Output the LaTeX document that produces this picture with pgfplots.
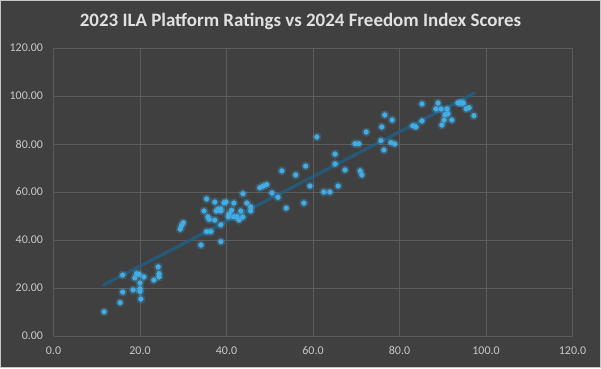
\documentclass[border=0pt]{standalone}
\usepackage{pgfplots}
\pgfplotsset{compat=1.18}
\usepackage{pgfplotstable}
\usepackage{fontspec}
\setmainfont{Carlito}
\definecolor{bg}{RGB}{64,64,64}
\definecolor{gridc}{RGB}{92,92,92}
\definecolor{tickc}{RGB}{200,200,200}
\definecolor{titlec}{RGB}{225,225,225}
\definecolor{markc}{RGB}{66,172,228}
\definecolor{trendc}{RGB}{32,96,134}
\pgfplotstableread{
x y
11.7 10.1
15.4 13.9
16.0 18.3
16.0 25.4
18.4 19.2
18.8 24.2
19.2 26.0
19.8 25.7
20.0 22.1
20.0 19.7
20.0 18.5
20.2 15.4
20.9 24.6
23.2 23.3
24.2 28.8
24.4 26.0
24.4 24.6
29.3 44.5
29.6 46.0
30.0 47.2
34.1 37.9
38.7 39.3
35.4 43.5
36.4 43.5
38.7 46.3
35.7 49.7
36.0 48.6
37.3 48.3
34.8 52.1
35.4 57.1
37.3 55.8
37.6 52.1
38.1 52.9
38.7 52.9
38.7 52.1
39.4 55.5
39.9 55.8
40.4 49.7
40.6 50.8
41.2 52.4
41.7 55.4
41.7 49.7
42.4 49.7
42.9 48.3
43.3 52.1
43.8 49.6
43.8 59.3
44.7 55.4
45.6 53.8
45.6 52.1
47.7 61.8
48.5 62.5
49.3 63.1
50.5 59.6
51.9 57.8
52.8 68.8
53.8 53.3
56.0 67.1
57.9 55.4
58.3 70.8
59.3 62.5
62.5 60.0
63.9 60.0
65.1 75.8
65.1 71.7
65.8 62.5
60.9 82.9
67.4 69.2
69.7 80.1
70.6 80.1
70.9 68.8
71.3 67.1
72.3 85.0
75.7 81.4
75.9 87.1
76.4 77.5
76.6 92.1
78.0 80.6
78.3 90.0
78.9 80.0
83.1 87.6
83.8 87.1
85.2 96.7
85.2 89.6
88.4 94.6
88.9 97.1
89.6 94.6
89.8 87.9
90.3 90.0
90.5 92.2
91.0 94.6
91.2 92.6
92.1 90.0
93.5 97.1
94.0 97.1
94.5 97.1
94.7 97.1
95.4 94.6
96.1 95.1
97.2 91.8
}\pts
\begin{document}
\begin{tikzpicture}[x=1bp,y=1bp]
\fill[bg] (0,0) rectangle (601,368);
\draw[gray!45,line width=1bp] (0.5,0.5) rectangle (600.5,367.5);
\node[text=titlec,font=\fontsize{19}{21}\selectfont\bfseries] at (300.5,347) {2023 ILA Platform Ratings vs 2024 Freedom Index Scores};
\begin{axis}[
  at={(53.5bp,32bp)}, anchor=south west,
  scale only axis, width=519bp, height=288bp,
  xmin=0, xmax=120, ymin=0, ymax=120,
  xtick={0,20,...,120}, ytick={0,20,...,120},
  grid=major,
  major grid style={gridc, line width=0.8bp},
  axis x line*=bottom, axis y line*=left,
  x axis line style={gridc, line width=0.8bp, -},
  y axis line style={draw=none, -},
  tick style={draw=none},
  ticklabel style={text=tickc, font=\fontsize{12}{14}\selectfont},
  /pgf/number format/assume math mode=true,
  xticklabel style={yshift=-7bp, /pgf/number format/.cd, fixed, fixed zerofill, precision=1},
  yticklabel style={xshift=-7bp, /pgf/number format/.cd, fixed, fixed zerofill, precision=2},
  clip=false,
]
\addplot[trendc, opacity=0.8, line width=3.2bp] coordinates {(11.4,21.1) (97.5,101.4)};
\addplot[only marks, mark=*, color=markc, opacity=0.22, mark size=4.3bp] table {\pts};
\addplot[only marks, mark=*, color=markc, mark size=2.4bp] table {\pts};
\end{axis}
\end{tikzpicture}
\end{document}
